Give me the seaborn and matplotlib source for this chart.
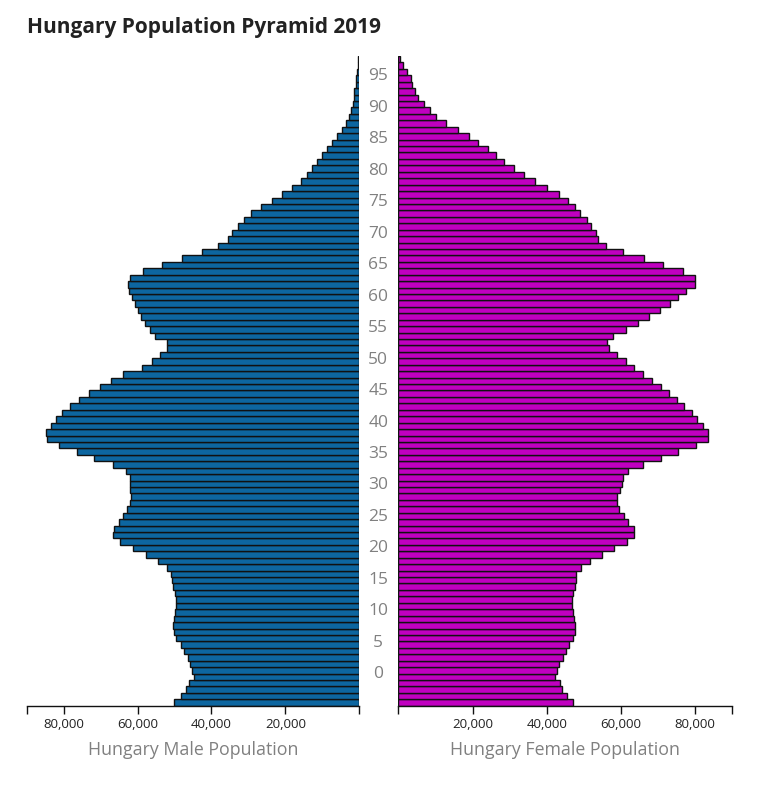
import numpy as np
import pandas as pd
import seaborn as sns
import matplotlib.pyplot as plt

sns.set_style("white")
plt.rcParams["font.family"] = ["Open Sans", "DejaVu Sans"]

# ---- data ----
ages = list(range(101))

male = [
    50090, 48200, 46850, 46040, 44690, 45140, 45760, 46390, 47470, 48380,
    49550, 50170, 50360, 50090, 49820, 49730, 49730, 50000, 50360, 50630,
    50900, 51980, 54500, 57840, 61170, 64680, 66660, 66480, 65140, 63950,
    62870, 61980, 61900, 61980, 61980, 61980, 63060, 66660, 71710, 76390,
    81250, 84500, 84770, 83410, 81980, 80360, 78390, 75850, 73140, 70090,
    67110, 63950, 58740, 56030, 53870, 51980, 51980, 55220, 56570, 57920,
    59000, 59810, 60620, 61430, 62240, 62510, 61970, 58460, 53330, 48010,
    42520, 38110, 35570, 34330, 32710, 31170, 29270, 26650, 23680, 20890,
    18190, 15840, 14140, 12700, 11350, 10000, 8810, 7380, 6030, 4600,
    3510, 2700, 2320, 1780, 1510, 1350, 970, 890, 600, 400,
    250,
]

female = [
    47000, 45380, 44200, 43580, 42150, 42690, 43390, 44300, 45110, 45920,
    47000, 47700, 47700, 47350, 47160, 46890, 46890, 47160, 47540, 47890,
    47970, 49160, 51660, 54980, 58210, 61550, 63600, 63520, 61990, 60910,
    59560, 59020, 59020, 59750, 60290, 60470, 61990, 65870, 70800, 75380,
    80150, 83380, 83540, 82030, 80580, 79070, 77080, 75030, 72960, 70720,
    68450, 66030, 63600, 61280, 59020, 56700, 56160, 57950, 61370, 64520,
    67650, 70530, 73220, 75300, 77450, 79880, 79880, 76810, 71420, 66220,
    60470, 55980, 53900, 53200, 51930, 50770, 49050, 47620, 45730, 43310,
    40070, 36840, 33880, 31180, 28480, 26330, 24170, 21480, 19050, 16060,
    12860, 10160, 8540, 7010, 5390, 4500, 3770, 3340, 2430, 1190,
    460,
]

age_ticks = [0, 5, 10, 15, 20, 25, 30, 35, 40, 45,
             50, 55, 60, 65, 70, 75, 80, 85, 90, 95]
age_tick_labels = ["0", "5", "10", "15", "20", "25", "30", "35", "40", "45",
                   "50", "55", "60", "65", "70", "75", "80", "85", "90", "95"]
pop_ticks = [0, 20000, 40000, 60000, 80000, 90000]
pop_tick_labels = ["", "20,000", "40,000", "60,000", "80,000", ""]

# the age axis of the original is drawn on a slightly different scale
# than the bars: bottom of the plot reads -5.3, top reads 97.9
AGE_AXIS_RANGE = (-5.3, 97.9)

MALE_COLOR = "#0d66a0"
FEMALE_COLOR = "#c000c0"

df = pd.DataFrame({"age": ages, "male": male, "female": female})

fig = plt.figure(figsize=(7.73, 7.87), dpi=100)
W, H = 773, 787
bottom_px, top_px = 705.7, 56
axm = fig.add_axes([26.7 / W, (H - bottom_px) / H, 332.6 / W, (bottom_px - top_px) / H])
axf = fig.add_axes([398.3 / W, (H - bottom_px) / H, 334 / W, (bottom_px - top_px) / H])

sns.barplot(data=df, x="male", y="age", orient="h", native_scale=True, ax=axm,
            color=MALE_COLOR, saturation=1, width=1, edgecolor="#111111",
            linewidth=1.0, errorbar=None)
sns.barplot(data=df, x="female", y="age", orient="h", native_scale=True, ax=axf,
            color=FEMALE_COLOR, saturation=1, width=1, edgecolor="#111111",
            linewidth=1.0, errorbar=None)

for ax in (axm, axf):
    ax.set_ylim(-0.5, 100.5)
    for side in ("top", "left", "right"):
        ax.spines[side].set_visible(False)
    ax.spines["bottom"].set_color("#111111")
    ax.spines["bottom"].set_linewidth(1.0)
    ax.set_xticks(pop_ticks)
    ax.set_xticklabels(pop_tick_labels)
    ax.tick_params(axis="x", direction="out", length=6, width=1, color="#111111",
                   labelsize=9.5, labelcolor="#222222", pad=3, bottom=True)
    ax.set_ylabel("")

axm.set_xlim(90000, 0)
axf.set_xlim(0, 90000)

axm.set_yticks([])
tick_pos = np.interp(age_ticks, AGE_AXIS_RANGE, (-0.5, 100.5))
axf.set_yticks(tick_pos)
axf.set_yticklabels(age_tick_labels)
axf.tick_params(axis="y", length=0, pad=14.5, labelsize=12.5, labelcolor="#808080")
for lbl in axf.get_yticklabels():
    lbl.set_horizontalalignment("center")

axm.set_xlabel("Hungary Male Population", fontsize=12.8, color="#808080", labelpad=7)
axf.set_xlabel("Hungary Female Population", fontsize=12.8, color="#808080", labelpad=7)

fig.text(27 / W, 1 - 27 / H, "Hungary Population Pyramid 2019", fontsize=15,
         fontweight="bold", color="#222222", ha="left", va="center")

fig.savefig("out.png", dpi=100)
